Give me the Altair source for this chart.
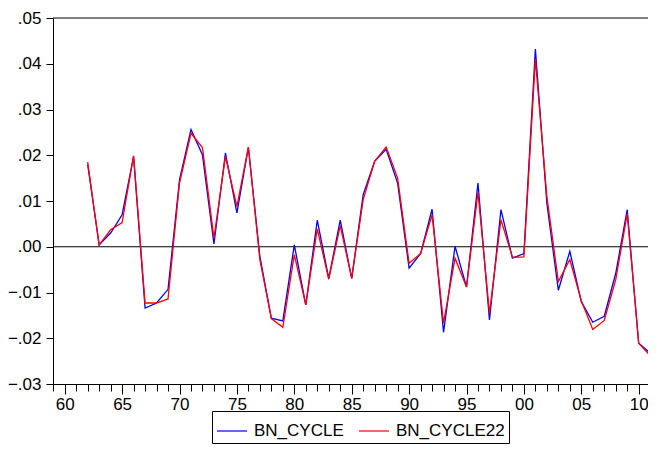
import altair as alt
import pandas as pd

years = list(range(1962, 2013))
bn_cycle = [
    0.0180, 0.0004, 0.0030, 0.0070, 0.0197, -0.0134, -0.0123, -0.0093,
    0.0146, 0.0256, 0.0201, 0.0006, 0.0205, 0.0074, 0.0217, -0.0021,
    -0.0156, -0.0162, 0.0004, -0.0127, 0.0058, -0.0069, 0.0058, -0.0069,
    0.0114, 0.0187, 0.0213, 0.0139, -0.0047, -0.0015, 0.0082, -0.0187,
    0.0001, -0.0088, 0.0139, -0.0160, 0.0081, -0.0025, -0.0015, 0.0432,
    0.0095, -0.0095, -0.0010, -0.0120, -0.0165, -0.0152, -0.0058, 0.0081,
    -0.0211, -0.0232, -0.0065,
]
bn_cycle22 = [
    0.0185, 0.0004, 0.0037, 0.0053, 0.0199, -0.0123, -0.0123, -0.0114,
    0.0139, 0.0248, 0.0217, 0.0019, 0.0197, 0.0088, 0.0218, -0.0028,
    -0.0157, -0.0176, -0.0017, -0.0127, 0.0039, -0.0071, 0.0046, -0.0069,
    0.0103, 0.0187, 0.0218, 0.0150, -0.0036, -0.0015, 0.0070, -0.0167,
    -0.0025, -0.0088, 0.0119, -0.0145, 0.0059, -0.0023, -0.0022, 0.0410,
    0.0110, -0.0076, -0.0028, -0.0118, -0.0181, -0.0161, -0.0072, 0.0072,
    -0.0211, -0.0238, -0.0075,
]
series_names = ["BN_CYCLE", "BN_CYCLE22"]
series_colors = ["#0000FF", "#FF0000"]
y_ticks = [-0.03, -0.02, -0.01, 0.0, 0.01, 0.02, 0.03, 0.04, 0.05]
x_ticks = list(range(1959, 2011))
y_top = 0.05

df = pd.concat([
    pd.DataFrame({"year": years, "value": bn_cycle, "series": series_names[0]}),
    pd.DataFrame({"year": years, "value": bn_cycle22, "series": series_names[1]}),
])

x_scale = alt.Scale(domain=[1958.98, 2010.81], nice=False, zero=False)
y_scale = alt.Scale(domain=[-0.03, 0.05], nice=False, zero=False)

lines = alt.Chart(df).mark_line(strokeWidth=1.3, clip=True).encode(
    x=alt.X("year:Q", scale=x_scale, title=None,
            axis=alt.Axis(values=x_ticks, labelOverlap=False, labelFlush=False,
                          labelExpr="datum.value % 5 === 0 ? substring(toString(datum.value), 2) : ''",
                          tickSize={"condition": {"test": "datum.value % 5 === 0", "value": 10}, "value": 7},
                          labelPadding=2)),
    y=alt.Y("value:Q", scale=y_scale, title=None,
            axis=alt.Axis(values=y_ticks, tickSize=7, labelPadding=5,
                          labelExpr="replace(format(datum.value, '.2f'), '0.', '.')")),
    color=alt.Color("series:N",
                    scale=alt.Scale(domain=series_names, range=series_colors),
                    legend=alt.Legend(title=None, orient="none", legendX=159, legendY=393,
                                      direction="horizontal", strokeColor="black",
                                      padding=4, symbolType="stroke", symbolSize=900,
                                      symbolStrokeWidth=1.2, labelFontSize=17,
                                      labelOffset=6, columnPadding=12,
                                      labelFont="Liberation Sans", labelColor="black")),
)

zero = alt.Chart(pd.DataFrame({"v": [0.0]})).mark_rule(color="black", strokeWidth=1).encode(
    y=alt.Y("v:Q", scale=y_scale)
)
top = alt.Chart(pd.DataFrame({"v": [y_top]})).mark_rule(color="black", strokeWidth=1).encode(
    y=alt.Y("v:Q", scale=y_scale)
)

chart = alt.layer(zero, top, lines).properties(
    width=595, height=366,
    autosize=alt.AutoSizeParams(type="none"),
    padding={"left": 45, "top": 10, "right": 0, "bottom": 60},
).configure_view(
    stroke=None
).configure_axis(
    grid=False, domainColor="black", tickColor="black", labelColor="black",
    labelFont="Liberation Sans", labelFontSize=17, domainWidth=1, tickWidth=1,
)

chart.save("out.html", embed_options={"renderer": "svg", "actions": False})
